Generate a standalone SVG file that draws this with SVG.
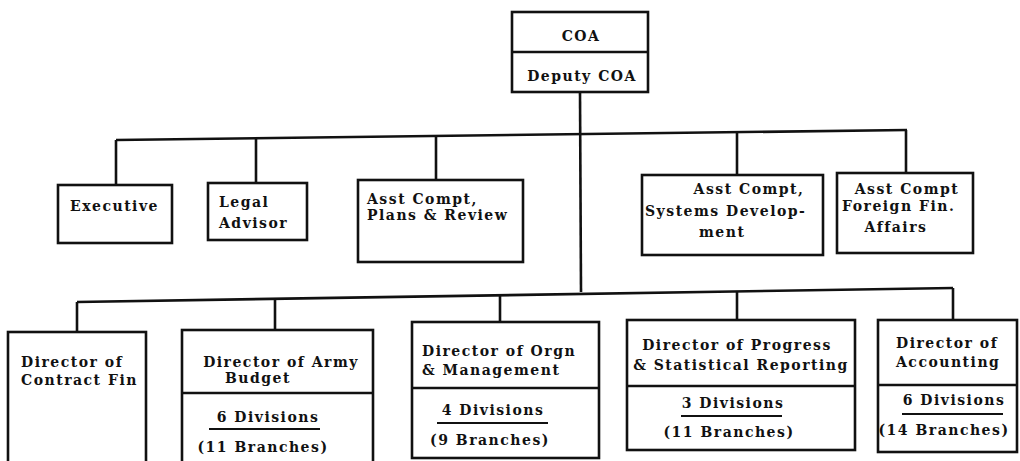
<svg xmlns="http://www.w3.org/2000/svg" width="1020" height="461" viewBox="0 0 1020 461">
<style>
.box{fill:#fff;stroke:#111;stroke-width:2.6}
.ln{stroke:#111;stroke-width:2.6;fill:none}
.ul{stroke:#111;stroke-width:2;fill:none}
text{font-family:"DejaVu Serif","Liberation Serif",serif;font-weight:bold;font-size:14px;letter-spacing:1.5px;fill:#111}
.m{text-anchor:middle}
</style>
<rect width="1020" height="461" fill="#fff"/>
<g id="connectors">
<line class="ln" x1="580" y1="92" x2="581" y2="292"/>
<line class="ln" x1="116" y1="140" x2="907" y2="130"/>
<line class="ln" x1="116" y1="140" x2="116" y2="185"/>
<line class="ln" x1="256" y1="139" x2="256" y2="183"/>
<line class="ln" x1="436" y1="137" x2="436" y2="180"/>
<line class="ln" x1="737" y1="133" x2="737" y2="175"/>
<line class="ln" x1="906" y1="130" x2="906" y2="173"/>
<line class="ln" x1="77" y1="302" x2="953" y2="288"/>
<line class="ln" x1="77" y1="302" x2="77" y2="332"/>
<line class="ln" x1="275" y1="300" x2="275" y2="330"/>
<line class="ln" x1="500" y1="296" x2="500" y2="322"/>
<line class="ln" x1="737" y1="292" x2="737" y2="320"/>
<line class="ln" x1="953" y1="288" x2="953" y2="320"/>
</g>
<g id="coa">
<rect class="box" x="512" y="12" width="136" height="80"/>
<line class="ln" x1="512" y1="52" x2="648" y2="52"/>
<text class="m" x="581" y="41">COA</text>
<text class="m" x="582" y="81">Deputy COA</text>
</g>
<g id="executive">
<rect class="box" x="58" y="185" width="114" height="58"/>
<text x="70" y="211">Executive</text>
</g>
<g id="legal">
<rect class="box" x="208" y="183" width="99" height="57"/>
<text x="219" y="207">Legal</text>
<text x="219" y="228">Advisor</text>
</g>
<g id="plans">
<rect class="box" x="358" y="180" width="165" height="82"/>
<text x="367" y="204">Asst Compt,</text>
<text x="367" y="220">Plans &amp; Review</text>
</g>
<g id="systems">
<rect class="box" x="642" y="175" width="181" height="80"/>
<text class="m" x="749" y="194">Asst Compt,</text>
<text x="645" y="216">Systems Develop-</text>
<text x="699" y="237">ment</text>
</g>
<g id="foreign">
<rect class="box" x="837" y="173" width="136" height="80"/>
<text class="m" x="907" y="194">Asst Compt</text>
<text x="842" y="211">Foreign Fin.</text>
<text class="m" x="896" y="232">Affairs</text>
</g>
<g id="contract">
<rect class="box" x="8" y="332" width="138" height="140"/>
<text x="21" y="367">Director of</text>
<text x="21" y="385">Contract Fin</text>
</g>
<g id="army">
<rect class="box" x="182" y="330" width="191" height="142"/>
<line class="ln" x1="182" y1="393" x2="373" y2="393"/>
<text class="m" x="281" y="367">Director of Army</text>
<text class="m" x="258" y="383">Budget</text>
<text class="m" x="268" y="422">6 Divisions</text>
<line class="ul" x1="209" y1="429" x2="320" y2="429"/>
<text class="m" x="263" y="452">(11 Branches)</text>
</g>
<g id="orgn">
<rect class="box" x="412" y="322" width="187" height="136"/>
<line class="ln" x1="412" y1="388" x2="599" y2="388"/>
<text x="422" y="356">Director of Orgn</text>
<text x="422" y="375">&amp; Management</text>
<text class="m" x="493" y="415">4 Divisions</text>
<line class="ul" x1="437" y1="423" x2="548" y2="423"/>
<text class="m" x="490" y="445">(9 Branches)</text>
</g>
<g id="progress">
<rect class="box" x="627" y="320" width="228" height="130"/>
<line class="ln" x1="627" y1="386" x2="855" y2="386"/>
<text class="m" x="737" y="350">Director of Progress</text>
<text class="m" x="741" y="370">&amp; Statistical Reporting</text>
<text class="m" x="733" y="408">3 Divisions</text>
<line class="ul" x1="681" y1="416" x2="782" y2="416"/>
<text class="m" x="729" y="437">(11 Branches)</text>
</g>
<g id="accounting">
<rect class="box" x="878" y="320" width="139" height="132"/>
<line class="ln" x1="878" y1="385" x2="1017" y2="385"/>
<text x="896" y="348">Director of</text>
<text x="896" y="367">Accounting</text>
<text class="m" x="954" y="405">6 Divisions</text>
<line class="ul" x1="902" y1="414" x2="1003" y2="414"/>
<text class="m" x="944" y="435">(14 Branches)</text>
</g>
</svg>
